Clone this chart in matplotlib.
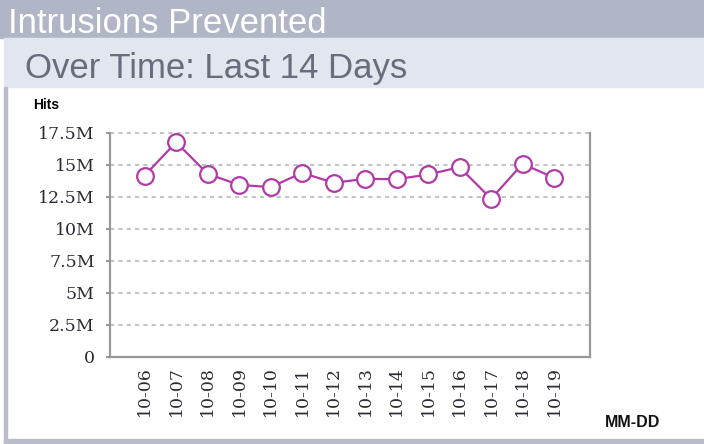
import matplotlib.pyplot as plt
from matplotlib.patches import Rectangle

# datos
dias = ["10-06", "10-07", "10-08", "10-09", "10-10", "10-11", "10-12",
        "10-13", "10-14", "10-15", "10-16", "10-17", "10-18", "10-19"]
hits = [14.14, 16.74, 14.27, 13.41, 13.23, 14.35, 13.57,
        13.88, 13.85, 14.22, 14.79, 12.32, 15.05, 13.96]   # millones
ticks_y = [0, 2.5, 5, 7.5, 10, 12.5, 15, 17.5]
etiquetas_y = ["0", "2.5M", "5M", "7.5M", "10M", "12.5M", "15M", "17.5M"]

W, H = 704, 444
fig = plt.figure(figsize=(W / 100, H / 100), dpi=100)
fig.patch.set_facecolor("white")


def rect(x, y, w, h, color):
    # coordenadas en píxeles desde arriba a la izquierda
    fig.patches.append(Rectangle((x / W, 1 - (y + h) / H), w / W, h / H,
                                 transform=fig.transFigure, color=color,
                                 zorder=0))


# barras de encabezado y bordes
rect(0, 0, W, 38, "#b1b6c7")
rect(4, 38, W - 4, 49, "#e2e6ee")
rect(4, 87, 3, H - 87, "#b8bccb")
rect(4, 439, W - 4, 5, "#b8bccb")

fig.text(8 / W, 1 - 33 / H, "Intrusions Prevented", color="white",
         fontsize=25, family="Liberation Sans", va="baseline")
fig.text(25 / W, 1 - 78 / H, "Over Time: Last 14 Days", color="#686d7d",
         fontsize=25, family="Liberation Sans", va="baseline")
fig.text(33 / W, 1 - 109 / H, "Hits", color="black", fontsize=10,
         family="Liberation Sans", weight="bold", va="baseline")
fig.text(605 / W, 1 - 427 / H, "MM-DD", color="#111111", fontsize=11.5,
         family="Liberation Sans", weight="bold", va="baseline")

ax = fig.add_axes([110 / W, 1 - 356.5 / H, 480 / W, 224 / H])
x = list(range(len(dias)))
ax.plot(x, hits, color="#b23aa8", linewidth=1.6, marker="o",
        markersize=12, markerfacecolor="white", markeredgecolor="#b23aa8",
        markeredgewidth=1.6, zorder=3, clip_on=False)

ax.set_xlim(-1.1, len(dias) - 1 + 1.14)
ax.set_ylim(0, 17.5)
ax.set_xticks(x)
ax.set_xticklabels(dias, rotation=90, family="DejaVu Serif", fontsize=12.5,
                   color="#2e2a35")
ax.set_yticks(ticks_y)
ax.set_yticklabels(etiquetas_y, family="DejaVu Serif", fontsize=12.5,
                   color="#2e2a35")
ax.tick_params(axis="x", length=0, pad=7)
ax.tick_params(axis="y", length=3, width=1.5, color="#999999", pad=8)

ax.grid(axis="y", color="#c4c4c4", linestyle=(0, (2, 2)), linewidth=1.5)
ax.set_axisbelow(True)
for lado in ["left", "bottom", "right"]:
    ax.spines[lado].set_color("#999999")
    ax.spines[lado].set_linewidth(1.6)
ax.spines["top"].set_visible(False)

fig.savefig("out.png", dpi=100)
